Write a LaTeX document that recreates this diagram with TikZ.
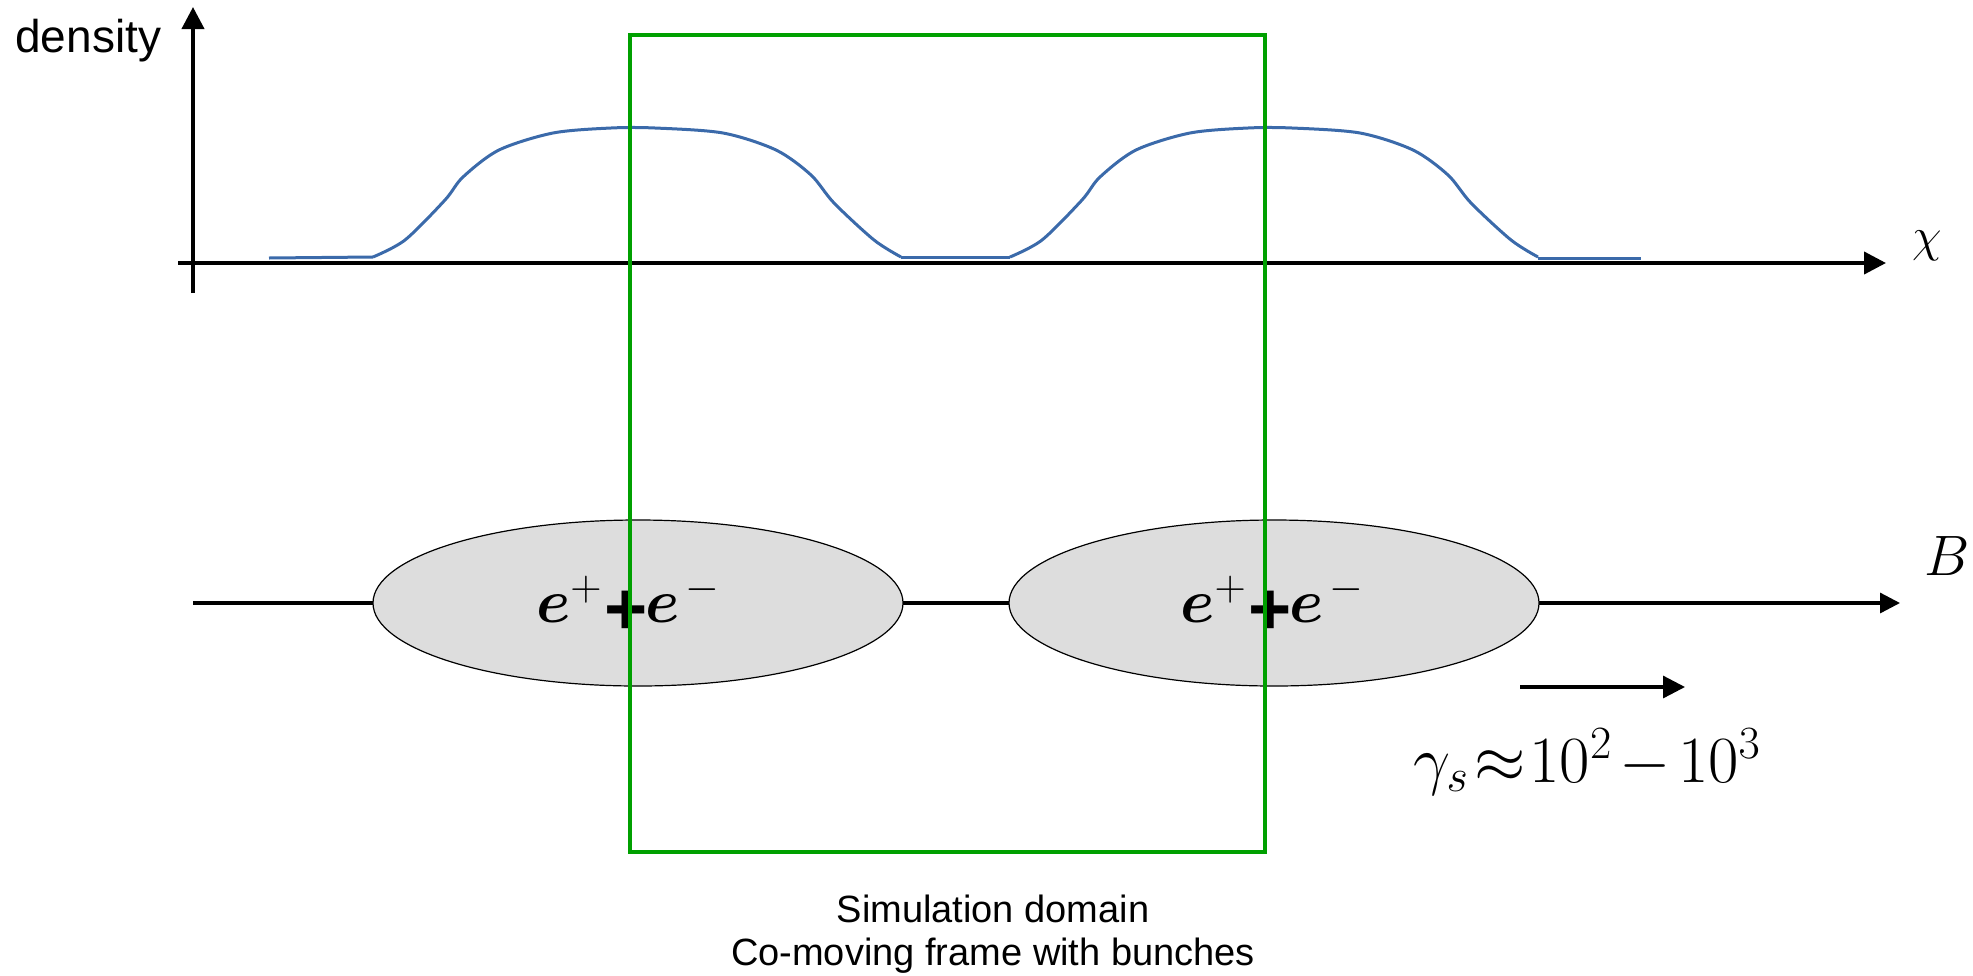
\RequirePackage{fix-cm}
\documentclass[tikz,border=0pt]{standalone}
\usepackage[no-math]{fontspec}
\setmainfont{Liberation Sans}
\usepackage{bm}
\usetikzlibrary{shapes.geometric,arrows.meta}
\definecolor{domgreen}{RGB}{0,160,0}
\definecolor{curveblue}{RGB}{59,106,170}
\definecolor{bunchgray}{RGB}{221,221,221}
\newcommand{\heavyplus}{\raisebox{-6pt}{\fontsize{37}{38}\selectfont\bfseries +}}
\newcommand{\pairtext}{$\bm{e}^{+}$\hspace{1pt}\heavyplus\hspace{-1pt}$\bm{e}^{\mkern2mu-}$}
\begin{document}
\begin{tikzpicture}[x=0.5pt,y=-0.5pt,
  axisline/.style={line width=2pt,-{Triangle[length=11pt,width=11pt]}},
  bline/.style={line width=1.6pt,-{Triangle[length=10pt,width=10pt]}},
  motion/.style={line width=1.6pt,-{Triangle[length=11pt,width=11pt]}},
  bunch/.style={ellipse,draw=black,line width=0.6pt,fill=bunchgray,minimum width=265pt,minimum height=83pt,inner sep=0pt},
  pairlbl/.style={inner sep=0pt,font=\fontsize{31}{34}\selectfont},
  densitycurve/.style={draw=curveblue,line width=1.5pt,line join=round},
  simbox/.style={draw=domgreen,line width=2pt},
  lbltext/.style={inner sep=0pt,font=\fontsize{23}{27}\selectfont},
  captext/.style={inner sep=0pt,font=\fontsize{19}{22}\selectfont},
  mathlbl/.style={inner sep=0pt}]
\useasboundingbox (0,0) rectangle (1973,975);
% B field line
\coordinate (bstart) at (193,603);
\coordinate (bend) at (1900,603);
\draw[bline] (bstart) -- (bend);
% bunches
\node[bunch] (bunch1) at (638,603) {};
\node[bunch] (bunch2) at (1274,603) {};
\node[pairlbl] (pair1) at ([xshift=-5pt,yshift=-1pt]bunch1.center) {\pairtext};
\node[pairlbl] (pair2) at ([xshift=-1pt,yshift=-1pt]bunch2.center) {\pairtext};
\node[mathlbl,font=\fontsize{28.5}{34}\selectfont] (blbl) at (1947,556) {$B$};
% axes
\coordinate (ybot) at (193,293);
\coordinate (ytop) at (193,7);
\coordinate (xleft) at (178,263);
\coordinate (xright) at (1886,263);
\draw[axisline] (ybot) -- (ytop);
\draw[axisline] (xleft) -- (xright);
\node[lbltext,anchor=base west] (dens) at (15,52) {density};
\node[mathlbl,font=\fontsize{24}{28}\selectfont] (xlbl) at (1927,246) {$\chi$};
% density curve
\draw[densitycurve] (269,258) -- (373,257);
\foreach \s in {373,1010} {
  \draw[densitycurve,shift={(\s,0)}] plot[smooth,tension=0.5] coordinates
   {(0,257) (32,240) (72,200) (90,177) (126,150) (180,133) (238,128) (282,128) (350,133) (403,150) (438,175) (461,203) (501,240) (528,257)};
}
\draw[densitycurve] (901,257) -- (1010,257);
\draw[densitycurve] (1538,258) -- (1641,258);
% simulation domain
\draw[simbox] (630,35) rectangle (1265,852);
% motion arrow and gamma
\coordinate (mvL) at (1520,687);
\coordinate (mvR) at (1685,687);
\draw[motion] (mvL) -- (mvR);
\node[mathlbl,anchor=base,font=\fontsize{33}{38}\selectfont] (gam) at (1587,782) {$\gamma_{s}\mkern1.5mu{\approx}\mkern1mu10^{2}\mkern2mu{-}\mkern2mu10^{3}$};
% caption
\node[captext,anchor=base] (cap1) at (993,922) {Simulation domain};
\node[captext,anchor=base] (cap2) at (993,965) {Co-moving frame with bunches};
\end{tikzpicture}
\end{document}
